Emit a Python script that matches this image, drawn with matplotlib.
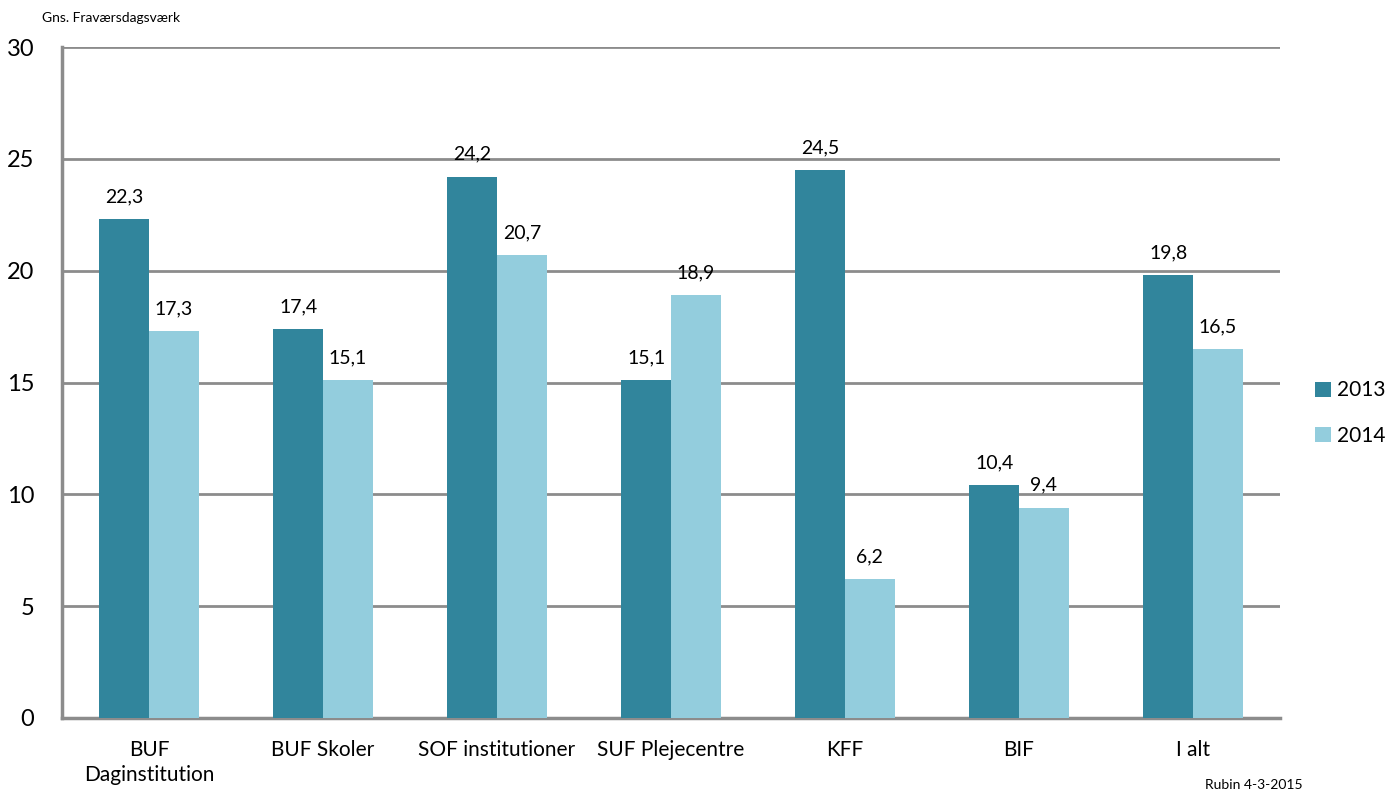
import matplotlib
matplotlib.use("Agg")
import matplotlib.pyplot as plt
import numpy as np

categories = ["BUF\nDaginstitution", "BUF Skoler", "SOF institutioner", "SUF Plejecentre", "KFF", "BIF", "I alt"]
values_2013 = [22.3, 17.4, 24.2, 15.1, 24.5, 10.4, 19.8]
values_2014 = [17.3, 15.1, 20.7, 18.9, 6.2, 9.4, 16.5]
series_names = ["2013", "2014"]
yticks = [0, 5, 10, 15, 20, 25, 30]

plt.rcParams['font.family'] = ['Lato', 'DejaVu Sans']

c2013 = "#31859C"
c2014 = "#93CDDD"
grid_c = "#8C8C8C"

fig = plt.figure(figsize=(13.89, 7.94), dpi=100)
ax = fig.add_axes([62/1389, 1-718/794, (1280-62)/1389, (718-47)/794])

x = np.arange(len(categories))
w = 0.285
b1 = ax.bar(x - w/2, values_2013, w, color=c2013, label=series_names[0], zorder=3)
b2 = ax.bar(x + w/2, values_2014, w, color=c2014, label=series_names[1], zorder=3)

for bars, vals in ((b1, values_2013), (b2, values_2014)):
    for r, v in zip(bars, vals):
        ax.annotate(f"{v:.1f}".replace(".", ","), (r.get_x() + r.get_width()/2, v),
                    xytext=(0, 10), textcoords="offset points", ha="center", va="bottom",
                    fontsize=14, color="black")

ax.set_xlim(-0.5, len(categories) - 0.5)
ax.set_ylim(0, 30)
ax.set_yticks(yticks)
ax.set_yticklabels([str(t) for t in yticks], fontsize=17)
ax.set_xticks(x)
ax.set_xticklabels(categories, fontsize=15, linespacing=1.3)
ax.tick_params(axis="both", length=0)
ax.tick_params(axis="y", pad=20)
ax.tick_params(axis="x", pad=16)
ax.yaxis.grid(True, color=grid_c, linewidth=2, zorder=0)
ax.set_axisbelow(True)
for s in ["top", "right"]:
    ax.spines[s].set_visible(False)
for s in ["left", "bottom"]:
    ax.spines[s].set_color(grid_c)
    ax.spines[s].set_linewidth(2.5)

fig.text(42/1389, 1-18/794, "Gns. Fraværsdagsværk", fontsize=10, ha="left", va="center")
fig.text(1205/1389, 1-785/794, "Rubin 4-3-2015", fontsize=10, ha="left", va="center")

leg = fig.legend(handles=[b1, b2], labels=series_names, loc="center left",
                 bbox_to_anchor=(1315/1389, 1-413/794), frameon=False, fontsize=15,
                 borderpad=0, borderaxespad=0,
                 handlelength=0.75, handleheight=0.75, handletextpad=0.3, labelspacing=1.2)

fig.savefig("out.png", dpi=100)
